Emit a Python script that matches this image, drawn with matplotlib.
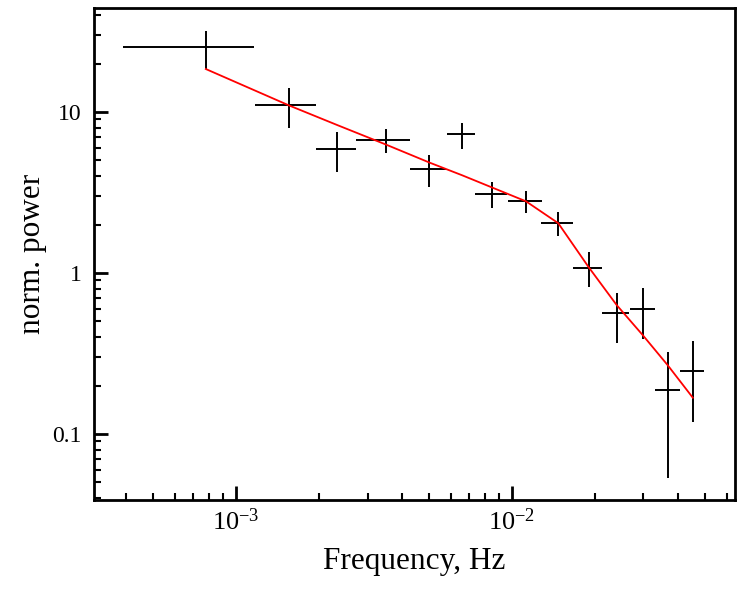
import numpy as np
import matplotlib
matplotlib.use("Agg")
import matplotlib.pyplot as plt
from matplotlib.ticker import LogLocator, FixedLocator, FixedFormatter, NullFormatter

plt.rcParams['font.family'] = ['Liberation Serif', 'DejaVu Serif']
plt.rcParams['mathtext.fontset'] = 'stix'

# Data (frequency in Hz, normalized power)
freq = [7.78e-4, 1.556e-3, 2.33e-3, 3.49e-3, 5.02e-3, 6.60e-3, 8.51e-3,
        1.125e-2, 1.473e-2, 1.897e-2, 2.40e-2, 2.98e-2, 3.67e-2, 4.53e-2]
freq_lo = [3.90e-4, 1.169e-3, 1.953e-3, 2.72e-3, 4.27e-3, 5.83e-3, 7.38e-3,
           9.70e-3, 1.28e-2, 1.667e-2, 2.13e-2, 2.68e-2, 3.30e-2, 4.06e-2]
freq_hi = [1.16e-3, 1.945e-3, 2.716e-3, 4.27e-3, 5.77e-3, 7.38e-3, 9.64e-3,
           1.29e-2, 1.667e-2, 2.13e-2, 2.67e-2, 3.30e-2, 4.06e-2, 4.98e-2]
power = [25.2, 11.05, 5.89, 6.70, 4.43, 7.27, 3.11,
         2.79, 2.045, 1.079, 0.562, 0.598, 0.188, 0.247]
power_lo = [18.5, 7.93, 4.26, 5.59, 3.44, 5.89, 2.55,
            2.35, 1.705, 0.815, 0.370, 0.389, 0.0531, 0.119]
power_hi = [31.8, 14.2, 7.52, 7.82, 5.41, 8.58, 3.66,
            3.23, 2.38, 1.35, 0.755, 0.811, 0.322, 0.377]
model = [18.5, 11.0, 8.30, 6.29, 4.86, 4.05, 3.39,
         2.79, 2.04, 1.09, 0.632, 0.412, 0.268, 0.168]

yticks = [0.1, 1, 10]
ytick_labels = ["0.1", "1", "10"]

freq = np.array(freq); power = np.array(power)
xerr = [freq - np.array(freq_lo), np.array(freq_hi) - freq]
yerr = [power - np.array(power_lo), np.array(power_hi) - power]

fig = plt.figure(figsize=(7.46, 5.90), dpi=100)
ax = fig.add_axes([0.126, 0.1525, 0.859, 0.834])

ax.errorbar(freq, power, xerr=xerr, yerr=yerr, fmt='none', ecolor='black',
            elinewidth=1.4, capsize=0, zorder=3)
ax.plot(freq, model, color='red', lw=1.3, zorder=4)

ax.set_xscale('log')
ax.set_yscale('log')
ax.set_xlim(3.06e-4, 6.43e-2)
ax.set_ylim(0.0389, 44.3)

ax.yaxis.set_major_locator(FixedLocator(yticks))
ax.yaxis.set_major_formatter(FixedFormatter(ytick_labels))
ax.yaxis.set_minor_locator(LogLocator(base=10, subs=np.arange(2, 10)))
ax.yaxis.set_minor_formatter(NullFormatter())
ax.xaxis.set_major_locator(LogLocator(base=10, numticks=10))
ax.xaxis.set_minor_locator(LogLocator(base=10, subs=np.arange(2, 10), numticks=20))
ax.xaxis.set_minor_formatter(NullFormatter())

ax.tick_params(which='both', direction='in', top=False, right=False)
ax.tick_params(axis='y', which='major', pad=9, labelsize=17)
ax.tick_params(axis='x', which='major', pad=6, labelsize=19)
ax.tick_params(which='major', length=10, width=2)
ax.tick_params(which='minor', length=5, width=1.5)
for s in ax.spines.values():
    s.set_linewidth(2)

ax.set_xlabel('Frequency, Hz', fontsize=22.5, labelpad=9)
ax.set_ylabel('norm. power', fontsize=22.5, labelpad=4)

fig.savefig('out.png', dpi=100)
